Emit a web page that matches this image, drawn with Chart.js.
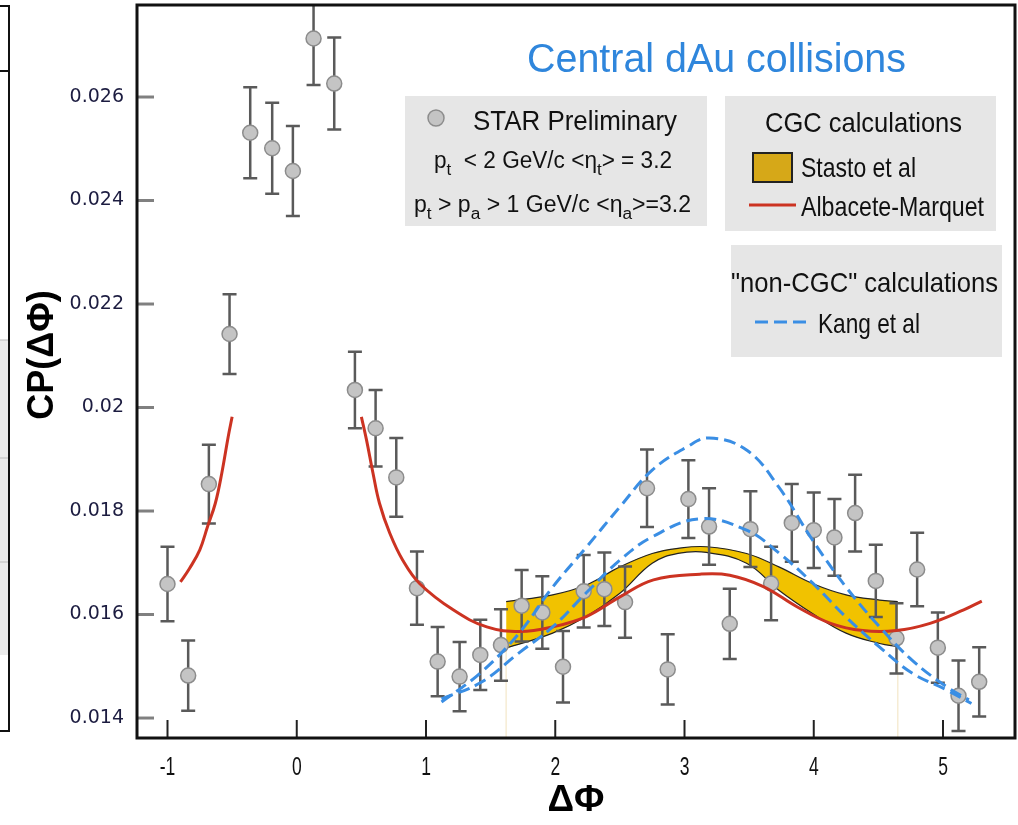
<!DOCTYPE html>
<html>
<head>
<meta charset="utf-8">
<title>Central dAu collisions</title>
<script src="https://cdn.jsdelivr.net/npm/chart.js@4.4.1/dist/chart.umd.min.js"></script>
<style>
  html, body { margin: 0; padding: 0; background: #fff; }
  #wrap { width: 1018px; height: 825px; }
</style>
</head>
<body>
<div id="wrap"><canvas id="myChart" width="1018" height="825"></canvas></div>
<script>
// STAR preliminary points: delta phi, CP value, error half-length
const starPhi = [-1.00, -0.84, -0.68, -0.52, -0.36, -0.19, -0.03, 0.13, 0.29, 0.45,
  0.61, 0.77, 0.93, 1.09, 1.26, 1.42, 1.58, 1.74, 1.90, 2.06,
  2.22, 2.38, 2.54, 2.71, 2.87, 3.03, 3.19, 3.35, 3.51, 3.67,
  3.83, 4.00, 4.16, 4.32, 4.48, 4.64, 4.80, 4.96, 5.12, 5.28];
const starCP = [0.01659, 0.01482, 0.01852, 0.02142, 0.02531, 0.02501, 0.02457, 0.02713, 0.02626, 0.02034,
  0.01960, 0.01865, 0.01651, 0.01509, 0.01480, 0.01522, 0.01541, 0.01617, 0.01604, 0.01499,
  0.01645, 0.01649, 0.01624, 0.01844, 0.01494, 0.01823, 0.01770, 0.01582, 0.01765, 0.01660,
  0.01777, 0.01763, 0.01749, 0.01796, 0.01665, 0.01554, 0.01687, 0.01536, 0.01443, 0.01470];
const starErr = [0.00072, 0.00068, 0.00076, 0.00077, 0.00088, 0.00088, 0.00087, 0.00090, 0.00089, 0.00074,
  0.00074, 0.00076, 0.00071, 0.00067, 0.00067, 0.00068, 0.00069, 0.00069, 0.00070, 0.00069,
  0.00070, 0.00071, 0.00069, 0.00075, 0.00068, 0.00075, 0.00074, 0.00068, 0.00073, 0.00071,
  0.00075, 0.00073, 0.00074, 0.00074, 0.00070, 0.00068, 0.00071, 0.00068, 0.00068, 0.00067];

// Albacete-Marquet (null = gap between the two pieces)
const amPhi = [-0.90, -0.83, -0.75, -0.69, -0.63, -0.58, -0.53, -0.50, 0.00, 0.50,
  0.54, 0.59, 0.64, 0.72, 0.82, 0.95, 1.21, 1.47, 1.73, 1.98,
  2.24, 2.50, 2.76, 3.12, 3.35, 3.61, 3.87, 4.13, 4.38, 4.64,
  4.90, 5.16, 5.30];
const amCP = [0.01663, 0.01689, 0.01725, 0.01770, 0.01815, 0.01873, 0.01944, 0.01982, null, 0.01982,
  0.01937, 0.01873, 0.01815, 0.01757, 0.01705, 0.01660, 0.01609, 0.01576, 0.01567, 0.01576,
  0.01596, 0.01634, 0.01667, 0.01678, 0.01676, 0.01654, 0.01615, 0.01583, 0.01569, 0.01569,
  0.01583, 0.01609, 0.01626];

// Stasto et al band
const stastoPhi = [1.62, 1.98, 2.24, 2.50, 2.75, 2.95, 3.17, 3.48, 3.73, 3.99, 4.25, 4.51, 4.65];
const stastoHigh = [0.01625, 0.01638, 0.01657, 0.01692, 0.01718, 0.01728, 0.01731, 0.01718, 0.01692, 0.01660, 0.01638, 0.01628, 0.01625];
const stastoLow = [0.01535, 0.01564, 0.01596, 0.01641, 0.01699, 0.01718, 0.01720, 0.01699, 0.01647, 0.01602, 0.01564, 0.01544, 0.01538];

// Kang et al, two curves
const kangAPhi = [1.12, 1.42, 1.72, 1.98, 2.24, 2.50, 2.75, 3.02, 3.19, 3.48, 3.73, 3.99, 4.25, 4.51, 4.76, 5.03, 5.20];
const kangACP = [0.01431, 0.01487, 0.01564, 0.01653, 0.01730, 0.01808, 0.01879, 0.01924, 0.01941, 0.01918, 0.01846, 0.01744, 0.01653, 0.01576, 0.01512, 0.01460, 0.01435];
const kangBPhi = [1.12, 1.42, 1.72, 1.98, 2.24, 2.50, 2.75, 3.12, 3.48, 3.73, 3.99, 4.25, 4.51, 4.76, 5.03, 5.22];
const kangBCP = [0.01437, 0.01468, 0.01526, 0.01576, 0.01642, 0.01705, 0.01750, 0.01785, 0.01763, 0.01719, 0.01661, 0.01595, 0.01537, 0.01487, 0.01454, 0.01428];

// axes
const xTickValues = [-1, 0, 1, 2, 3, 4, 5];
const xTickLabels = ['-1', '0', '1', '2', '3', '4', '5'];
const yTickValues = [0.014, 0.016, 0.018, 0.020, 0.022, 0.024, 0.026];
const yTickLabels = ['0.014', '0.016', '0.018', '0.02', '0.022', '0.024', '0.026'];

const FAMILY = '"Liberation Sans", Arial, Helvetica, sans-serif';
const RED = '#cc3322';
const BLUE = '#3a8ee4';
const GOLD = '#f1c200';

function pts(xs, ys) {
  return xs.map((x, i) => ({ x: x, y: ys[i] }));
}

// draw text squeezed horizontally (the original lettering is condensed)
function squeezeText(ctx, text, x, y, size, sx, color, weight, align) {
  ctx.save();
  ctx.font = (weight || 'normal') + ' ' + size + 'px ' + FAMILY;
  ctx.translate(x, y);
  ctx.scale(sx, 1);
  ctx.fillStyle = color || '#111';
  ctx.textAlign = align || 'left';
  ctx.textBaseline = 'alphabetic';
  ctx.fillText(text, 0, 0);
  ctx.restore();
}

// fit text into a given width
function fitText(ctx, text, x, y, size, width, color, weight) {
  ctx.save();
  ctx.font = (weight || 'normal') + ' ' + size + 'px ' + FAMILY;
  const w = ctx.measureText(text).width;
  ctx.restore();
  squeezeText(ctx, text, x, y, size, width / w, color, weight);
}

// text with subscripts, parts = [[text, isSub], ...]
function richText(ctx, parts, x, y, size, width) {
  ctx.save();
  let total = 0;
  const ws = parts.map(p => {
    ctx.font = (p[1] ? size * 0.75 : size) + 'px ' + FAMILY;
    const w = ctx.measureText(p[0]).width;
    total += w;
    return w;
  });
  ctx.translate(x, y);
  ctx.scale(width / total, 1);
  ctx.fillStyle = '#111';
  ctx.textBaseline = 'alphabetic';
  let cx = 0;
  parts.forEach((p, i) => {
    ctx.font = (p[1] ? size * 0.75 : size) + 'px ' + FAMILY;
    ctx.fillText(p[0], cx, p[1] ? size * 0.32 : 0);
    cx += ws[i];
  });
  ctx.restore();
}

const decor = {
  id: 'decor',
  beforeDraw(chart) {
    const ctx = chart.ctx;
    ctx.save();
    ctx.fillStyle = '#fff';
    ctx.fillRect(0, 0, chart.width, chart.height);
    // edge of the neighbouring panel, cut off at the left
    ctx.fillStyle = '#ebebeb';
    ctx.fillRect(0, 340, 8, 315);
    ctx.strokeStyle = '#111';
    ctx.lineWidth = 2;
    ctx.beginPath();
    ctx.moveTo(0, 6); ctx.lineTo(9, 6); ctx.lineTo(9, 731); ctx.lineTo(0, 731);
    ctx.moveTo(0, 71); ctx.lineTo(9, 71);
    ctx.stroke();
    ctx.strokeStyle = '#bbb';
    ctx.lineWidth = 1;
    ctx.beginPath();
    ctx.moveTo(0, 340); ctx.lineTo(8, 340);
    ctx.moveTo(0, 458); ctx.lineTo(8, 458);
    ctx.moveTo(0, 562); ctx.lineTo(8, 562);
    ctx.stroke();
    ctx.restore();
  },
  beforeDatasetsDraw(chart) {
    const ctx = chart.ctx, xs = chart.scales.x, ys = chart.scales.y;
    ctx.save();
    ctx.strokeStyle = '#f6ecd4';
    ctx.lineWidth = 1.5;
    [0, stastoPhi.length - 1].forEach(i => {
      const px = xs.getPixelForValue(stastoPhi[i]);
      ctx.beginPath();
      ctx.moveTo(px, ys.getPixelForValue(stastoLow[i]));
      ctx.lineTo(px, chart.chartArea.bottom);
      ctx.stroke();
    });
    ctx.restore();
  },
  beforeDatasetDraw(chart, args) {
    if (args.index !== 2) return;
    const ctx = chart.ctx, xs = chart.scales.x, ys = chart.scales.y, a = chart.chartArea;
    ctx.save();
    ctx.beginPath();
    ctx.rect(a.left, a.top, a.right - a.left, a.bottom - a.top);
    ctx.clip();
    ctx.strokeStyle = '#5a5a5a';
    ctx.lineWidth = 2.5;
    starPhi.forEach((phi, i) => {
      const px = xs.getPixelForValue(phi);
      const top = ys.getPixelForValue(starCP[i] + starErr[i]);
      const bot = ys.getPixelForValue(starCP[i] - starErr[i]);
      ctx.beginPath();
      ctx.moveTo(px, top); ctx.lineTo(px, bot);
      ctx.moveTo(px - 7, top); ctx.lineTo(px + 7, top);
      ctx.moveTo(px - 7, bot); ctx.lineTo(px + 7, bot);
      ctx.stroke();
    });
    ctx.restore();
  },
  afterDatasetsDraw(chart) {
    const ctx = chart.ctx, xs = chart.scales.x, ys = chart.scales.y, a = chart.chartArea;
    ctx.save();
    // inward tick marks
    ctx.strokeStyle = '#808080';
    ctx.lineWidth = 3;
    ys.ticks.forEach(t => {
      const py = ys.getPixelForValue(t.value);
      ctx.beginPath(); ctx.moveTo(a.left, py); ctx.lineTo(a.left + 17, py); ctx.stroke();
    });
    ctx.strokeStyle = '#222';
    ctx.lineWidth = 2;
    xs.ticks.forEach((t, i) => {
      const px = xs.getPixelForValue(t.value);
      ctx.beginPath(); ctx.moveTo(px, a.bottom); ctx.lineTo(px, a.bottom - 18); ctx.stroke();
      // condensed tick labels
      squeezeText(ctx, xTickLabels[i], px, 775, 25, 0.7, '#111', 'normal', 'center');
    });
    // frame
    ctx.strokeStyle = '#111';
    ctx.lineWidth = 3;
    ctx.strokeRect(a.left, a.top, a.right - a.left, a.bottom - a.top);

    // title
    fitText(ctx, 'Central dAu collisions', 527, 72, 40, 379, '#2f86dc');

    // legend boxes
    ctx.fillStyle = '#e6e6e6';
    ctx.fillRect(405, 96, 302, 130);
    ctx.fillRect(725, 96, 271, 135);
    ctx.fillRect(731, 245, 271, 112);

    // STAR box
    ctx.beginPath();
    ctx.arc(436, 118, 8, 0, Math.PI * 2);
    ctx.fillStyle = '#c4c4c4'; ctx.fill();
    ctx.strokeStyle = '#8c8c8c'; ctx.lineWidth = 1.5; ctx.stroke();
    fitText(ctx, 'STAR Preliminary', 473, 130, 28, 204);
    richText(ctx, [['p', 0], ['t', 1], ['  < 2 GeV/c <\u03b7', 0], ['t', 1], ['> = 3.2', 0]], 434, 168, 23, 238);
    richText(ctx, [['p', 0], ['t', 1], [' > p', 0], ['a', 1], [' > 1 GeV/c <\u03b7', 0], ['a', 1], ['>=3.2', 0]], 414, 212, 23, 277);

    // CGC box
    fitText(ctx, 'CGC calculations', 765, 132, 28, 197);
    ctx.fillStyle = '#d6a818';
    ctx.fillRect(753, 153, 39, 29);
    ctx.strokeStyle = '#222'; ctx.lineWidth = 2;
    ctx.strokeRect(753, 153, 39, 29);
    fitText(ctx, 'Stasto et al', 801, 177, 28, 115);
    ctx.strokeStyle = RED; ctx.lineWidth = 3;
    ctx.beginPath(); ctx.moveTo(749, 205); ctx.lineTo(796, 205); ctx.stroke();
    fitText(ctx, 'Albacete-Marquet', 801, 216, 28, 183);

    // non-CGC box
    fitText(ctx, '"non-CGC" calculations', 731, 292, 28, 267);
    ctx.strokeStyle = BLUE; ctx.lineWidth = 3;
    ctx.setLineDash([13, 6]);
    ctx.beginPath(); ctx.moveTo(755, 322); ctx.lineTo(807, 322); ctx.stroke();
    ctx.setLineDash([]);
    fitText(ctx, 'Kang et al', 818, 333, 28, 102);

    // y axis title
    ctx.translate(43, 355);
    ctx.rotate(-Math.PI / 2);
    ctx.font = 'bold 36px ' + FAMILY;
    ctx.fillStyle = '#000';
    ctx.textAlign = 'center';
    ctx.textBaseline = 'middle';
    ctx.fillText('CP(\u0394\u03a6)', 0, 0);
    ctx.restore();
  }
};

const chartConfig = {
  type: 'scatter',
  data: {
    datasets: [
      {
        type: 'line', label: 'Stasto et al (upper)', data: pts(stastoPhi, stastoHigh),
        borderColor: '#222', borderWidth: 1.2, backgroundColor: GOLD, fill: '+1',
        pointRadius: 0, tension: 0.4, order: 6
      },
      {
        type: 'line', label: 'Stasto et al (lower)', data: pts(stastoPhi, stastoLow),
        borderColor: '#222', borderWidth: 1.2, fill: false,
        pointRadius: 0, tension: 0.4, order: 5
      },
      {
        label: 'STAR Preliminary', data: pts(starPhi, starCP),
        pointRadius: 7.5, pointBackgroundColor: '#c4c4c4', pointBorderColor: '#8c8c8c',
        pointBorderWidth: 1.5, order: 3
      },
      {
        type: 'line', label: 'Albacete-Marquet', data: pts(amPhi, amCP),
        borderColor: RED, borderWidth: 3, fill: false, spanGaps: false,
        pointRadius: 0, tension: 0.4, order: 2
      },
      {
        type: 'line', label: 'Kang et al', data: pts(kangAPhi, kangACP),
        borderColor: BLUE, borderWidth: 3, borderDash: [12, 6], fill: false,
        pointRadius: 0, tension: 0.4, order: 1
      },
      {
        type: 'line', label: 'Kang et al (2)', data: pts(kangBPhi, kangBCP),
        borderColor: BLUE, borderWidth: 3, borderDash: [12, 6], fill: false,
        pointRadius: 0, tension: 0.4, order: 1
      }
    ]
  },
  options: {
    responsive: false,
    animation: false,
    devicePixelRatio: 1,
    layout: { autoPadding: false, padding: { left: 0, top: 5, right: 3, bottom: 0 } },
    plugins: {
      legend: { display: false },
      tooltip: { enabled: false }
    },
    scales: {
      x: {
        type: 'linear',
        min: -1.236, max: 5.557,
        afterBuildTicks: s => { s.ticks = xTickValues.map(v => ({ value: v })); },
        afterFit: s => { s.height = 87; s.paddingLeft = 0; s.paddingRight = 0; },
        grid: { display: false, drawTicks: false },
        border: { display: false },
        ticks: { display: false },
        title: {
          display: true, text: '\u0394\u03a6', color: '#000',
          font: { family: FAMILY, size: 37, weight: 'bold' },
          padding: { top: 0, bottom: 2 }
        }
      },
      y: {
        type: 'linear',
        min: 0.013614, max: 0.027778,
        afterBuildTicks: s => { s.ticks = yTickValues.map(v => ({ value: v })); },
        afterFit: s => { s.width = 137; s.paddingTop = 0; s.paddingBottom = 0; },
        grid: { display: false, drawTicks: false },
        border: { display: false },
        ticks: {
          padding: 13,
          color: '#1c1c40',
          font: { family: '"DejaVu Sans", sans-serif', size: 19 },
          callback: (v, i) => yTickLabels[i]
        }
      }
    }
  },
  plugins: [decor]
};

let chart;
try {
  chart = new Chart(document.getElementById('myChart'), chartConfig);
} catch (error) {
  console.error('Error generating chart:', error);
}
</script>
</body>
</html>
